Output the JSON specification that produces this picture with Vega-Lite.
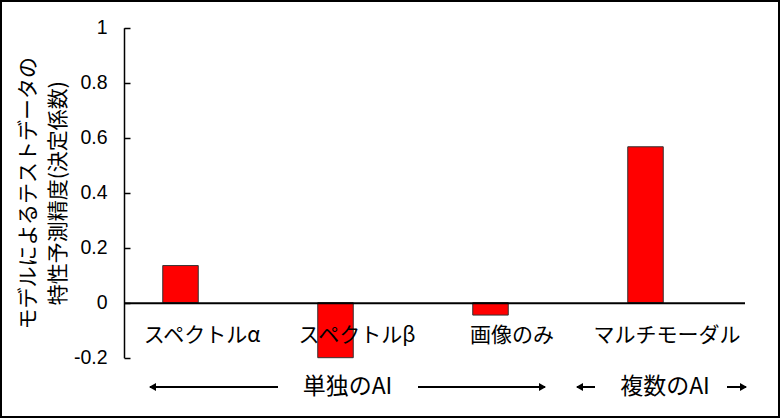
{
  "$schema": "https://vega.github.io/schema/vega-lite/v6.json",
  "width": 778,
  "height": 416,
  "autosize": {"type": "none"},
  "padding": 1,
  "background": "white",
  "config": {"view": {"stroke": "black", "strokeWidth": 2}, "font": "Noto Sans CJK JP"},
  "data": {"values": [
    {"model": "スペクトルα", "r2": 0.135},
    {"model": "スペクトルβ", "r2": -0.2},
    {"model": "画像のみ", "r2": -0.045},
    {"model": "マルチモーダル", "r2": 0.567}
  ]},
  "layer": [
    {
      "mark": {"type": "bar", "fill": "#FF0000", "stroke": "#333333", "strokeWidth": 1, "width": 35.5, "xOffset": -21.5},
      "encoding": {
        "x": {
          "field": "model", "type": "nominal", "sort": null,
          "scale": {"type": "band", "range": [123.5, 743.5], "paddingInner": 0, "paddingOuter": 0},
          "axis": {"orient": "bottom", "offset": -114.3, "domainColor": "black", "domainWidth": 2, "ticks": false,
                   "labelFont": "Noto Sans CJK JP", "labelFontSize": 21, "labelColor": "black", "labelPadding": 21.5,
                   "labelAngle": 0, "title": null, "zindex": 1, "grid": false}
        },
        "y": {
          "field": "r2", "type": "quantitative",
          "scale": {"domain": [-0.2, 1], "range": [356.7, 26.7], "nice": false, "zero": true},
          "axis": {"orient": "left", "offset": -123,
                   "values": [-0.2, -0.1, 0, 0.1, 0.2, 0.3, 0.4, 0.5, 0.6, 0.7, 0.8, 0.9, 1],
                   "labelExpr": "round(datum.value*10)%2!=0 ? '' : (datum.value<0 ? '-' : '') + format(abs(datum.value), '~g')",
                   "tickSize": -6, "tickColor": "black", "tickWidth": 1.5,
                   "domainColor": "black", "domainWidth": 1.5, "grid": false,
                   "labelFont": "Liberation Sans", "labelFontSize": 19.5, "labelColor": "black", "labelPadding": 23,
                   "title": ["モデルによるテストデータの", "特性予測精度(決定係数)"],
                   "titleFont": "Noto Sans CJK JP", "titleFontSize": 21, "titleFontWeight": "normal",
                   "titleColor": "black", "titleLineHeight": 30, "titlePadding": 5}
        }
      }
    },
    {
      "data": {"values": [{"label": "単独のAI"}]},
      "mark": {"type": "text", "fontSize": 23, "font": "Noto Sans CJK JP", "color": "black", "dx": -9.5, "baseline": "middle"},
      "encoding": {"x": {"datum": "スペクトルβ"}, "y": {"datum": -0.3065}, "text": {"field": "label"}}
    },
    {
      "data": {"values": [{"label": "複数のAI"}]},
      "mark": {"type": "text", "fontSize": 23, "font": "Noto Sans CJK JP", "color": "black", "dx": -2, "baseline": "middle"},
      "encoding": {"x": {"datum": "マルチモーダル"}, "y": {"datum": -0.3065}, "text": {"field": "label"}}
    },
    {
      "data": {"values": [{}]},
      "mark": {"type": "rule", "strokeWidth": 2, "color": "black", "xOffset": -52, "x2Offset": -79},
      "encoding": {"x": {"datum": "スペクトルα"}, "x2": {"datum": "スペクトルβ"}, "y": {"datum": -0.3065}}
    },
    {
      "data": {"values": [{}]},
      "mark": {"type": "rule", "strokeWidth": 2, "color": "black", "xOffset": 61, "x2Offset": 33},
      "encoding": {"x": {"datum": "スペクトルβ"}, "x2": {"datum": "画像のみ"}, "y": {"datum": -0.3065}}
    },
    {
      "data": {"values": [{}]},
      "mark": {"type": "rule", "strokeWidth": 2, "color": "black", "xOffset": -90, "x2Offset": -72},
      "encoding": {"x": {"datum": "マルチモーダル"}, "x2": {"datum": "マルチモーダル"}, "y": {"datum": -0.3065}}
    },
    {
      "data": {"values": [{}]},
      "mark": {"type": "rule", "strokeWidth": 2, "color": "black", "xOffset": 60, "x2Offset": 79},
      "encoding": {"x": {"datum": "マルチモーダル"}, "x2": {"datum": "マルチモーダル"}, "y": {"datum": -0.3065}}
    },
    {
      "data": {"values": [{}]},
      "mark": {"type": "point", "shape": "triangle-left", "filled": true, "color": "black", "opacity": 1, "size": 65, "xOffset": -49.5},
      "encoding": {"x": {"datum": "スペクトルα"}, "y": {"datum": -0.3065}}
    },
    {
      "data": {"values": [{}]},
      "mark": {"type": "point", "shape": "triangle-right", "filled": true, "color": "black", "opacity": 1, "size": 65, "xOffset": 30.5},
      "encoding": {"x": {"datum": "画像のみ"}, "y": {"datum": -0.3065}}
    },
    {
      "data": {"values": [{}]},
      "mark": {"type": "point", "shape": "triangle-left", "filled": true, "color": "black", "opacity": 1, "size": 65, "xOffset": -87.5},
      "encoding": {"x": {"datum": "マルチモーダル"}, "y": {"datum": -0.3065}}
    },
    {
      "data": {"values": [{}]},
      "mark": {"type": "point", "shape": "triangle-right", "filled": true, "color": "black", "opacity": 1, "size": 65, "xOffset": 76.5},
      "encoding": {"x": {"datum": "マルチモーダル"}, "y": {"datum": -0.3065}}
    }
  ]
}
